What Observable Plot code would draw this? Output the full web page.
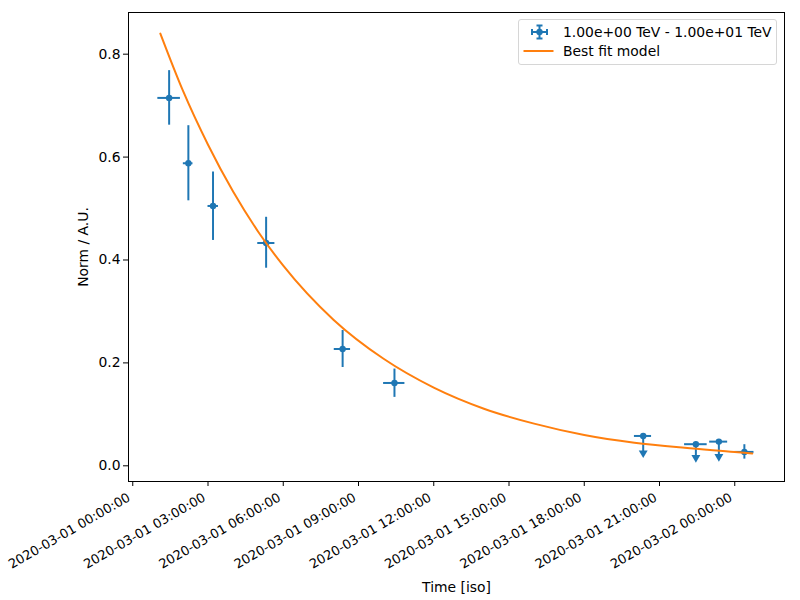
<!DOCTYPE html>
<html>
<head>
<meta charset="utf-8">
<script src="https://cdn.jsdelivr.net/npm/d3@7"></script>
<script src="https://cdn.jsdelivr.net/npm/@observablehq/plot@0.6"></script>
<style>
  body { margin: 0; background: #fff; }
  #wrap { position: relative; width: 800px; height: 600px; font-family: "DejaVu Sans", sans-serif; }
  #legend { position: absolute; left: 518px; top: 19px; width: 257px; height: 44px;
            border: 1px solid #d6d6d6; border-radius: 3px; background: rgba(255,255,255,0.85);
            font-size: 13.9px; color: #000; }
  .row { position: absolute; left: 0; height: 18px; display: flex; align-items: center; }
  .row span { position: absolute; left: 44px; top: 0; line-height: 18px; white-space: nowrap; }
</style>
</head>
<body>
<div id="wrap">
  <div id="chart"></div>
  <div id="legend">
    <div class="row" style="top:3px;">
      <svg width="40" height="18" style="position:absolute;left:0;top:0">
        <line x1="13" y1="9" x2="28" y2="9" stroke="#1f77b4" stroke-width="2"/>
        <line x1="20.5" y1="2.5" x2="20.5" y2="15.5" stroke="#1f77b4" stroke-width="2"/>
        <line x1="13" y1="6" x2="13" y2="12" stroke="#1f77b4" stroke-width="2"/>
        <line x1="28" y1="6" x2="28" y2="12" stroke="#1f77b4" stroke-width="2"/>
        <line x1="17.5" y1="2.5" x2="23.5" y2="2.5" stroke="#1f77b4" stroke-width="2"/>
        <line x1="17.5" y1="15.5" x2="23.5" y2="15.5" stroke="#1f77b4" stroke-width="2"/>
        <circle cx="20.5" cy="9" r="3.2" fill="#1f77b4"/>
      </svg>
      <span>1.00e+00 TeV - 1.00e+01 TeV</span>
    </div>
    <div class="row" style="top:22px;">
      <svg width="40" height="18" style="position:absolute;left:0;top:0">
        <line x1="4.5" y1="9" x2="34.5" y2="9" stroke="#ff7f0e" stroke-width="2"/>
      </svg>
      <span>Best fit model</span>
    </div>
  </div>
</div>
<script>
// ---- data ----
const binStart = ["2020-03-01T01:00Z","2020-03-01T02:01Z","2020-03-01T03:00Z","2020-03-01T04:59Z","2020-03-01T08:02Z",
                  "2020-03-01T10:00Z","2020-03-01T20:00Z","2020-03-01T22:00Z","2020-03-01T23:00Z","2020-03-02T00:00Z"];
const binEnd   = ["2020-03-01T01:54Z","2020-03-01T02:24Z","2020-03-01T03:25Z","2020-03-01T05:40Z","2020-03-01T08:41Z",
                  "2020-03-01T10:51Z","2020-03-01T20:41Z","2020-03-01T22:54Z","2020-03-01T23:43Z","2020-03-02T00:46Z"];
const binCenter= ["2020-03-01T01:27Z","2020-03-01T02:13Z","2020-03-01T03:12Z","2020-03-01T05:19Z","2020-03-01T08:22Z",
                  "2020-03-01T10:26Z","2020-03-01T20:21Z","2020-03-01T22:27Z","2020-03-01T23:22Z","2020-03-02T00:23Z"];
const norm     = [0.715, 0.588, 0.505, 0.433, 0.227, 0.161, 0.058, 0.042, 0.047, 0.027];
const normLo   = [0.662, 0.515, 0.438, 0.384, 0.191, 0.133, null, null, null, 0.013];
const normHi   = [0.768, 0.661, 0.571, 0.483, 0.263, 0.188, null, null, null, 0.041];
const isUL     = [false, false, false, false, false, false, true, true, true, false];
const ulArrowEnd = [null, null, null, null, null, null, 0.025, 0.016, 0.018, null];

const modelTime = ["2020-03-01T01:06Z","2020-03-01T02:00Z","2020-03-01T03:00Z","2020-03-01T04:00Z","2020-03-01T05:00Z",
                   "2020-03-01T06:00Z","2020-03-01T08:00Z","2020-03-01T10:00Z","2020-03-01T12:00Z","2020-03-01T14:00Z",
                   "2020-03-01T16:00Z","2020-03-01T18:00Z","2020-03-01T20:00Z","2020-03-01T22:00Z","2020-03-02T00:00Z",
                   "2020-03-02T00:42Z"];
const modelNorm = [0.840, 0.729, 0.624, 0.533, 0.455, 0.389, 0.284, 0.208, 0.152, 0.111,
                   0.082, 0.060, 0.045, 0.035, 0.027, 0.024];

const xTicks = ["2020-03-01T00:00Z","2020-03-01T03:00Z","2020-03-01T06:00Z","2020-03-01T09:00Z","2020-03-01T12:00Z",
                "2020-03-01T15:00Z","2020-03-01T18:00Z","2020-03-01T21:00Z","2020-03-02T00:00Z"];
const yTicks = [0.0, 0.2, 0.4, 0.6, 0.8];

// ---- build tables ----
const pts = norm.map((v, i) => ({
  t: new Date(binCenter[i]), t0: new Date(binStart[i]), t1: new Date(binEnd[i]),
  v, lo: normLo[i], hi: normHi[i], ul: isUL[i], arrow: ulArrowEnd[i]
}));
const errPts = pts.filter(d => !d.ul);
const ulPts = pts.filter(d => d.ul);
const model = modelTime.map((t, i) => ({t: new Date(t), v: modelNorm[i]}));
const tickDates = xTicks.map(d => new Date(d));

const blue = "#1f77b4", orange = "#ff7f0e";
const fmt = d3.utcFormat("%Y-%m-%d %H:%M:%S");

const chart = Plot.plot({
  width: 800, height: 600,
  marginLeft: 128, marginRight: 16, marginTop: 12, marginBottom: 119,
  style: {fontFamily: "DejaVu Sans, sans-serif", fontSize: "13.9px", color: "#000", background: "#fff"},
  x: {type: "utc", domain: [new Date("2020-02-29T23:49:48Z"), new Date("2020-03-02T01:59Z")]},
  y: {domain: [-0.0305, 0.881]},
  marks: [
    Plot.axisX({ticks: tickDates, tickFormat: () => "", tickSize: 5,
                label: "Time [iso]", labelAnchor: "center", labelArrow: "none", labelOffset: 110, fontSize: 13.9}),
    Plot.text(tickDates, {x: d => d, text: d => fmt(d), frameAnchor: "bottom", dy: 18.5, dx: -1.5,
                rotate: -30, textAnchor: "end", lineAnchor: "bottom", fontSize: 13, fill: "#000"}),
    Plot.axisY({ticks: yTicks, tickFormat: d3.format(".1f"), tickSize: 5, tickPadding: 3,
                label: "Norm / A.U.", labelAnchor: "center", labelArrow: "none", labelOffset: 50, fontSize: 13.9}),
    Plot.ruleY(pts, {y: "v", x1: "t0", x2: "t1", stroke: blue, strokeWidth: 2}),
    Plot.ruleX(errPts, {x: "t", y1: "lo", y2: "hi", stroke: blue, strokeWidth: 2}),
    Plot.ruleX(ulPts, {x: "t", y1: "v", y2: "arrow", stroke: blue, strokeWidth: 2}),
    Plot.dot(ulPts, {x: "t", y: "arrow", symbol: "triangle", rotate: 180, r: 3.3, fill: blue}),
    Plot.dot(pts, {x: "t", y: "v", r: 3.2, fill: blue}),
    Plot.line(model, {x: "t", y: "v", stroke: orange, strokeWidth: 2, curve: "monotone-x"}),
    Plot.frame({stroke: "#000", strokeWidth: 1})
  ]
});
document.getElementById("chart").appendChild(chart);
</script>
</body>
</html>
